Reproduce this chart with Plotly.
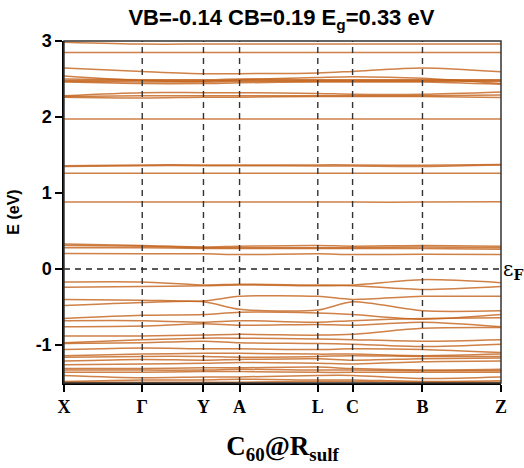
import plotly.graph_objects as go

# k-path positions (cumulative path length, arbitrary units) and labels
kpath = [0.0, 78.7, 140.3, 176.6, 255.3, 290.3, 360.6, 439.6]
klabels = ["X", "Γ", "Y", "A", "L", "C", "B", "Z"]

# band energies (eV) at X, Γ, Y, A, L, C, B, Z
upper_bands = [
    [2.985, 2.96, 2.96, 2.96, 2.96, 2.96, 2.96, 2.96],
    [2.85, 2.85, 2.85, 2.85, 2.85, 2.85, 2.85, 2.85],
    [2.645, 2.60, 2.57, 2.57, 2.58, 2.60, 2.645, 2.595],
    [2.54, 2.48, 2.47, 2.49, 2.52, 2.53, 2.51, 2.44],
    [2.50, 2.49, 2.49, 2.50, 2.49, 2.49, 2.49, 2.49],
    [2.48, 2.48, 2.48, 2.48, 2.48, 2.48, 2.48, 2.48],
    [2.47, 2.46, 2.46, 2.47, 2.47, 2.47, 2.47, 2.47],
    [2.46, 2.44, 2.44, 2.45, 2.46, 2.46, 2.46, 2.43],
    [2.28, 2.32, 2.32, 2.32, 2.31, 2.30, 2.30, 2.33],
    [2.27, 2.28, 2.28, 2.28, 2.28, 2.28, 2.28, 2.29],
    [2.26, 2.25, 2.26, 2.26, 2.27, 2.27, 2.27, 2.255],
    [1.975, 1.975, 1.975, 1.975, 1.975, 1.975, 1.975, 1.975],
    [1.36, 1.37, 1.37, 1.37, 1.37, 1.37, 1.365, 1.375],
    [1.35, 1.36, 1.36, 1.36, 1.355, 1.355, 1.35, 1.37],
    [1.26, 1.26, 1.26, 1.26, 1.26, 1.26, 1.26, 1.26],
    [0.88, 0.88, 0.88, 0.88, 0.88, 0.88, 0.88, 0.885],
]
conduction_bands = [
    [0.33, 0.31, 0.29, 0.30, 0.31, 0.30, 0.31, 0.30],
    [0.31, 0.30, 0.28, 0.28, 0.28, 0.28, 0.29, 0.28],
    [0.28, 0.28, 0.27, 0.27, 0.27, 0.27, 0.27, 0.26],
    [0.205, 0.20, 0.20, 0.19, 0.20, 0.19, 0.195, 0.19],
]
valence_bands = [
    [-0.17, -0.17, -0.21, -0.20, -0.21, -0.21, -0.14, -0.18],
    [-0.24, -0.23, -0.22, -0.21, -0.22, -0.22, -0.27, -0.23],
    [-0.40, -0.41, -0.42, -0.36, -0.36, -0.40, -0.36, -0.36],
    [-0.48, -0.44, -0.43, -0.53, -0.54, -0.43, -0.55, -0.55],
    [-0.65, -0.61, -0.60, -0.57, -0.58, -0.60, -0.66, -0.60],
    [-0.68, -0.68, -0.70, -0.68, -0.70, -0.68, -0.65, -0.64],
    [-0.76, -0.75, -0.72, -0.74, -0.73, -0.74, -0.70, -0.76],
    [-0.88, -0.88, -0.87, -0.86, -0.87, -0.86, -0.78, -0.77],
    [-0.97, -0.93, -0.91, -0.91, -0.92, -0.93, -0.95, -0.93],
    [-0.98, -0.97, -0.95, -0.97, -0.98, -0.99, -1.02, -0.99],
    [-1.06, -1.04, -1.05, -1.05, -1.06, -1.05, -1.06, -1.10],
    [-1.14, -1.12, -1.11, -1.11, -1.12, -1.12, -1.14, -1.12],
    [-1.16, -1.15, -1.15, -1.16, -1.15, -1.14, -1.15, -1.15],
    [-1.21, -1.19, -1.20, -1.19, -1.18, -1.20, -1.18, -1.17],
    [-1.26, -1.25, -1.24, -1.23, -1.24, -1.25, -1.22, -1.21],
    [-1.31, -1.31, -1.30, -1.30, -1.29, -1.31, -1.33, -1.32],
    [-1.33, -1.33, -1.33, -1.32, -1.33, -1.33, -1.34, -1.34],
    [-1.36, -1.36, -1.35, -1.35, -1.36, -1.36, -1.36, -1.36],
    [-1.40, -1.43, -1.42, -1.42, -1.40, -1.40, -1.44, -1.42],
    [-1.48, -1.46, -1.46, -1.45, -1.46, -1.46, -1.48, -1.47],
    [-1.49, -1.49, -1.49, -1.49, -1.48, -1.48, -1.49, -1.49],
]
y_ticks = [-1, 0, 1, 2, 3]
title_text = "VB=-0.14 CB=0.19 E<sub>g</sub>=0.33 eV"

band_color = "#c4621a"

fig = go.Figure()
for band in upper_bands + conduction_bands + valence_bands:
    fig.add_trace(go.Scatter(
        x=kpath, y=band, mode="lines",
        line=dict(color=band_color, width=1.5, shape="spline", smoothing=0.8),
        opacity=0.8, showlegend=False, hoverinfo="skip"))

# vertical dashed lines at interior high-symmetry points
for k in kpath[1:-1]:
    fig.add_shape(type="line", xref="x", yref="y", x0=k, x1=k, y0=-1.5, y1=3.0,
                  line=dict(color="#333333", width=1.4, dash="6px,5px"), layer="above")
# Fermi level
fig.add_shape(type="line", xref="x", yref="y", x0=kpath[0], x1=kpath[-1], y0=0, y1=0,
              line=dict(color="#222222", width=1.4, dash="6px,5px"), layer="above")

fig.add_annotation(x=1.0, y=0, xref="paper", yref="y", xanchor="left", yanchor="middle",
                   text="ε<sub><b>F</b></sub>", showarrow=False, xshift=0, yshift=-1,
                   font=dict(family="DejaVu Serif", size=20, color="black"))

fig.update_layout(
    width=524, height=468,
    margin=dict(l=62, r=23, t=41, b=83),
    paper_bgcolor="white", plot_bgcolor="white",
    title=dict(text="<b>" + title_text + "</b>", x=0.537, xanchor="center", y=0.962, yanchor="middle",
               font=dict(family="Liberation Sans", size=22, color="black")),
    xaxis=dict(range=[kpath[0], kpath[-1]], tickvals=kpath,
               ticktext=["<b>" + t + "</b>" for t in klabels],
               tickfont=dict(family="Liberation Serif", size=18, color="black"),
               ticks="outside", ticklen=7, tickwidth=1.5, tickcolor="black",
               showline=True, linecolor="black", linewidth=1.5, mirror=False,
               showgrid=False, zeroline=False,
               title=dict(text="<b>C<sub>60</sub>@R<sub>sulf</sub></b>", standoff=20,
                          font=dict(family="Liberation Serif", size=27, color="black"))),
    yaxis=dict(range=[-1.5, 3.0], tickvals=y_ticks,
               ticktext=["<b>" + str(t) + "</b>" for t in y_ticks],
               tickfont=dict(family="Liberation Sans", size=18, color="black"),
               ticks="outside", ticklen=7, tickwidth=1.5, tickcolor="black",
               showline=True, linecolor="black", linewidth=1.5,
               showgrid=False, zeroline=False,
               title=dict(text="<b>E (eV)</b>", standoff=12,
                          font=dict(family="Liberation Sans", size=16, color="black"))),
)
# right and top frame
fig.add_shape(type="rect", xref="paper", yref="paper", x0=0, x1=1, y0=0, y1=1,
              line=dict(color="#333333", width=1.5), layer="above")

fig.write_html("out.html")
